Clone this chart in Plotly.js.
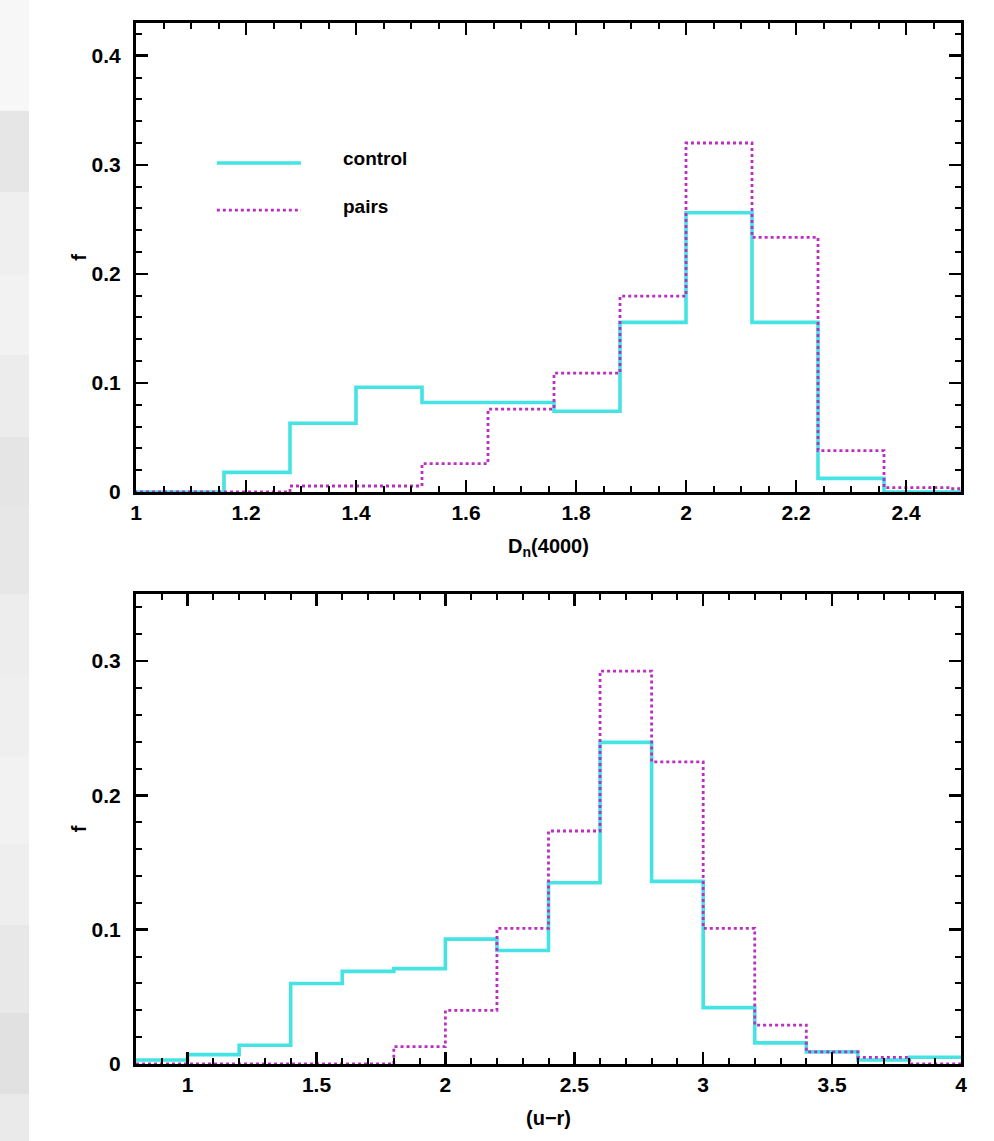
<!DOCTYPE html>
<html>
<head>
<meta charset="utf-8">
<script src="https://cdn.plot.ly/plotly-3.0.1.min.js"></script>
<style>
  html, body { margin: 0; padding: 0; background: #ffffff; }
  #chart { width: 994px; height: 1141px; }
</style>
</head>
<body>
<div id="chart"></div>
<script>
// ---- Data ----
// Top panel: D_n(4000) histogram, bin edges and fractions
const dnEdges   = [0.92, 1.04, 1.16, 1.28, 1.40, 1.52, 1.64, 1.76, 1.88, 2.00, 2.12, 2.24, 2.36, 2.48, 2.60];
const dnControl = [0, 0, 0.018, 0.063, 0.096, 0.082, 0.082, 0.074, 0.1555, 0.256, 0.1555, 0.0125, 0, 0];
const dnPairs   = [0, 0, 0, 0.0055, 0.0055, 0.026, 0.076, 0.109, 0.1795, 0.320, 0.2335, 0.038, 0.004, 0.003];

// Bottom panel: (u-r) colour histogram
const urEdges   = [0.8, 1.0, 1.2, 1.4, 1.6, 1.8, 2.0, 2.2, 2.4, 2.6, 2.8, 3.0, 3.2, 3.4, 3.6, 3.8, 4.0];
const urControl = [0.003, 0.007, 0.014, 0.060, 0.069, 0.071, 0.093, 0.0845, 0.135, 0.2395, 0.136, 0.042, 0.0157, 0.009, 0.003, 0.005];
const urPairs   = [0, 0, 0, 0, 0, 0.013, 0.040, 0.101, 0.1735, 0.2926, 0.225, 0.101, 0.029, 0.009, 0.005, 0];

const seriesNames = ['control', 'pairs'];
const xTitles = ['D<sub>n</sub>(4000)', '(u\u2212r)'];
const yTitle = 'f';

// ---- Styling ----
const CYAN = '#45e3e3';
const MAG  = '#bb2ec0';
const FONT = 'Liberation Sans Narrow, Liberation Sans, Arial, sans-serif';

function steps(edges, vals) {
  return { x: edges.slice(), y: vals.concat([vals[vals.length - 1]]) };
}

function trace(edges, vals, xa, ya, isPairs, name) {
  const s = steps(edges, vals);
  return {
    type: 'scatter', mode: 'lines', name: name,
    x: s.x, y: s.y, xaxis: xa, yaxis: ya,
    line: isPairs
      ? { color: MAG, width: 2.8, dash: '3px,3px', shape: 'hv' }
      : { color: CYAN, width: 3.6, shape: 'hv' },
    hoverinfo: 'x+y', showlegend: false
  };
}

const data = [
  trace(dnEdges, dnControl, 'x', 'y', false, seriesNames[0]),
  trace(dnEdges, dnPairs,   'x', 'y', true,  seriesNames[1]),
  trace(urEdges, urControl, 'x2', 'y2', false, seriesNames[0]),
  trace(urEdges, urPairs,   'x2', 'y2', true,  seriesNames[1])
];

const tickFont = { family: FONT, size: 21, color: '#000', weight: 'bold' };
const titleFont = { family: FONT, size: 20, color: '#000', weight: 'bold' };

function xAxis(range, dtick, minorDtick, anchor, title) {
  return {
    range: range, dtick: dtick, tick0: 0, anchor: anchor,
    ticks: 'inside', ticklen: 12, tickwidth: 2.5, tickcolor: '#000',
    minor: { ticks: 'inside', dtick: minorDtick, tick0: 0, ticklen: 6, tickwidth: 2, tickcolor: '#000' },
    showline: true, linewidth: 3, linecolor: '#000', mirror: 'allticks',
    showgrid: false, zeroline: false, automargin: false,
    tickfont: tickFont, ticklabelstandoff: 0,
    title: { text: title, font: titleFont, standoff: 16 }
  };
}
function yAxis(range, domain, anchor) {
  return {
    range: range, dtick: 0.1, tick0: 0, domain: domain, anchor: anchor,
    ticks: 'inside', ticklen: 12, tickwidth: 2.5, tickcolor: '#000',
    minor: { ticks: 'inside', dtick: 0.02, tick0: 0, ticklen: 6, tickwidth: 2, tickcolor: '#000' },
    showline: true, linewidth: 3, linecolor: '#000', mirror: 'allticks',
    showgrid: false, zeroline: false, automargin: false,
    tickfont: tickFont, ticklabelstandoff: 8,
    title: { text: yTitle, font: titleFont, standoff: 0 }
  };
}

// geometry helpers (pixels -> paper)
const W = 994, H = 1141, ML = 136, MR = 33, MT = 23, MB = 77;
const PW = W - ML - MR, PH = H - MT - MB;
const px2x = p => (p - ML) / PW;
const px2y = p => (H - MB - p) / PH;

// scanned-page grey stripe on the left edge
const stripeBreaks = [0, 111, 192, 274, 355, 437, 506, 594, 675, 757, 844, 925, 1013, 1094, 1141];
const stripeGreys  = ['#f7f7f7', '#e6e6e6', '#efefef', '#f2f2f2', '#ececec', '#e5e5e5', '#e7e7e7', '#ededed', '#efefef', '#f2f2f2', '#eeeeee', '#e8e8e8', '#e1e1e1', '#eaeaea'];
const shapes = [];
for (let i = 0; i < stripeGreys.length; i++) {
  shapes.push({
    type: 'rect', xref: 'paper', yref: 'paper', layer: 'below',
    x0: px2x(0), x1: px2x(29), y0: px2y(stripeBreaks[i + 1]), y1: px2y(stripeBreaks[i]),
    fillcolor: stripeGreys[i], line: { width: 0 }
  });
}
// legend samples (top panel)
shapes.push({ type: 'line', xref: 'x domain', yref: 'y domain', x0: 0.098, x1: 0.200, y0: 0.7015, y1: 0.7015,
  line: { color: CYAN, width: 3.6 } });
shapes.push({ type: 'line', xref: 'x domain', yref: 'y domain', x0: 0.098, x1: 0.200, y0: 0.601, y1: 0.601,
  line: { color: MAG, width: 2.8, dash: '3px,3px' } });

const legendFont = { family: FONT, size: 19, color: '#000', weight: 'bold' };
const annotations = [
  { xref: 'x domain', yref: 'y domain', x: 0.248, y: 0.712, xanchor: 'left', yanchor: 'middle',
    text: seriesNames[0], showarrow: false, font: legendFont },
  { xref: 'x domain', yref: 'y domain', x: 0.248, y: 0.608, xanchor: 'left', yanchor: 'middle',
    text: seriesNames[1], showarrow: false, font: legendFont }
];

const layout = {
  width: W, height: H,
  margin: { l: ML, r: MR, t: MT, b: MB, pad: 0 },
  paper_bgcolor: '#ffffff', plot_bgcolor: '#ffffff',
  showlegend: false,
  xaxis:  xAxis([1, 2.5], 0.2, 0.05, 'y', xTitles[0]),
  yaxis:  yAxis([0, 0.43], [1 - 469 / PH, 1], 'x'),
  xaxis2: xAxis([0.8, 4], 0.5, 0.1, 'y2', xTitles[1]),
  yaxis2: yAxis([0, 0.35], [0, 1 - 571 / PH], 'x2'),
  shapes: shapes,
  annotations: annotations
};

Plotly.newPlot('chart', data, layout, { displayModeBar: false, staticPlot: true });
</script>
</body>
</html>
